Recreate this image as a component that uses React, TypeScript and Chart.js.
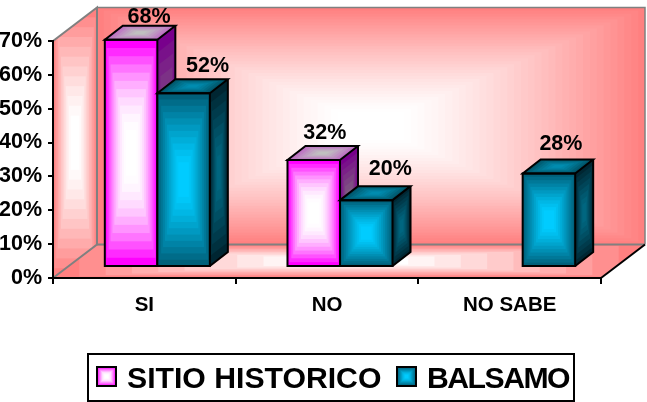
import React, { useEffect, useRef } from "react";
import { Chart, registerables } from "chart.js";

Chart.register(...registerables);

const categories = ["SI", "NO", "NO SABE"];
const sitioHistorico = [68, 32, null];
const balsamo = [52, 20, 28];
const seriesNames = ["SITIO HISTORICO", "BALSAMO"];

const FONT = "'Liberation Sans', Arial, sans-serif";
const DEPTH_X = 44;
const DEPTH_Y = 33.5;
const BAR_DX = 13;
const BAR_DY = 11;
const BAR_SCALE = 0.987;
const BAR_DEPTH_X = 18;
const BAR_DEPTH_Y = 14;
const LEGEND_ITEMS = [
  { swatch: 97, text: 127, spacing: "0px" },
  { swatch: 397, text: 427, spacing: "-1.5px" },
];
const LABEL_NUDGE = [
  [[0, -3], [6, -7.5]],
  [[-7, -7], [6, -11]],
  [[0, 0], [-6, -9]],
];

type RGB = [number, number, number];
const PALETTE: { front: RGB[]; side: RGB[]; top: RGB[]; ease: number }[] = [
  {
    front: [[255, 0, 255], [255, 255, 255]],
    side: [[120, 0, 140], [128, 100, 128]],
    top: [[190, 110, 195], [192, 192, 192]],
    ease: 1.9,
  },
  {
    front: [[0, 96, 122], [0, 204, 255]],
    side: [[0, 38, 50], [0, 102, 128]],
    top: [[0, 84, 104], [0, 140, 175]],
    ease: 1.25,
  },
];
const WALL: RGB[] = [[255, 128, 128], [255, 255, 255]];

function gradQuad(
  ctx: CanvasRenderingContext2D,
  o: number[],
  u: number[],
  v: number[],
  c: RGB[],
  steps: number,
  core = 0.2,
  ease = 1.3
) {
  ctx.save();
  ctx.transform(u[0], u[1], v[0], v[1], o[0], o[1]);
  for (let i = 0; i < steps; i++) {
    const t = steps > 1 ? i / (steps - 1) : 0;
    const k = 1 - Math.pow(1 - t, ease);
    const inset = (t * (1 - core)) / 2;
    const m = c[0].map((e, j) => Math.round(e + (c[1][j] - e) * k));
    ctx.fillStyle = `rgb(${m[0]},${m[1]},${m[2]})`;
    ctx.fillRect(inset, inset, 1 - 2 * inset, 1 - 2 * inset);
  }
  ctx.restore();
}

function polyPath(ctx: CanvasRenderingContext2D, pts: number[][], close = true) {
  ctx.beginPath();
  pts.forEach((p, i) => (i ? ctx.lineTo(p[0], p[1]) : ctx.moveTo(p[0], p[1])));
  if (close) ctx.closePath();
}

function clippedGrad(ctx: CanvasRenderingContext2D, pts: number[][], c: RGB[], steps: number, core: number, ease: number) {
  const xs = pts.map((p) => p[0]);
  const ys = pts.map((p) => p[1]);
  const x0 = Math.min(...xs);
  const y0 = Math.min(...ys);
  ctx.save();
  polyPath(ctx, pts);
  ctx.clip();
  gradQuad(ctx, [x0, y0], [Math.max(...xs) - x0, 0], [0, Math.max(...ys) - y0], c, steps, core, ease);
  ctx.restore();
}

function outline(ctx: CanvasRenderingContext2D, pts: number[][], color: string, width: number, close = true) {
  polyPath(ctx, pts, close);
  ctx.strokeStyle = color;
  ctx.lineWidth = width;
  ctx.lineJoin = "miter";
  ctx.stroke();
}

const scene3d = {
  id: "scene3d",
  beforeDraw(chart: any) {
    const { ctx, chartArea: a } = chart;
    const w = a.right - a.left;
    const h = a.bottom - a.top;
    const tl = [a.left + DEPTH_X, a.top - DEPTH_Y];
    const tr = [a.right + DEPTH_X, a.top - DEPTH_Y];
    const bl = [a.left + DEPTH_X, a.bottom - DEPTH_Y];
    const br = [a.right + DEPTH_X, a.bottom - DEPTH_Y];
    gradQuad(ctx, tl, [w, 0], [0, h], WALL, 36, 0.12, 1.3);
    clippedGrad(ctx, [[a.left, a.top], tl, bl, [a.left, a.bottom]], WALL, 12, 0.2, 1.3);
    clippedGrad(ctx, [[a.left, a.bottom], bl, br, [a.right, a.bottom]], WALL, 10, 0.2, 1.1);
    outline(ctx, [[a.left, a.top], tl, bl, [a.left, a.bottom]], "#808080", 2, false);
    outline(ctx, [bl, br], "#808080", 2, false);
    outline(ctx, [tl, tr, br], "#808080", 1.5, false);
    outline(ctx, [[a.right, a.bottom], br], "#000", 2, false);
  },
  beforeDatasetsDraw(chart: any) {
    const { ctx } = chart;
    const labels: any[] = [];
    categories.forEach((_, ci) => {
      chart.data.datasets.forEach((ds: any, di: number) => {
        const v = ds.data[ci];
        if (v === null || v === undefined) return;
        const el = chart.getDatasetMeta(di).data[ci];
        const l = el.x - el.width / 2 + BAR_DX;
        const r = l + el.width;
        const b = el.base - BAR_DY;
        const t = b - (el.base - el.y) * BAR_SCALE;
        const p = PALETTE[di];
        gradQuad(ctx, [r, t], [BAR_DEPTH_X, -BAR_DEPTH_Y], [0, b - t], p.side, 8, 0.2, 1.2);
        gradQuad(ctx, [l, t], [el.width, 0], [BAR_DEPTH_X, -BAR_DEPTH_Y], p.top, 7, 0.2, 1.2);
        gradQuad(ctx, [l, t], [el.width, 0], [0, b - t], p.front, 12, 0.2, p.ease);
        const k = [r + BAR_DEPTH_X, t - BAR_DEPTH_Y];
        outline(ctx, [[l, t], [r, t], [r, b], [l, b]], "#000", 2);
        outline(ctx, [[l, t], [l + BAR_DEPTH_X, t - BAR_DEPTH_Y], k, [r, t]], "#000", 2);
        outline(ctx, [k, [r + BAR_DEPTH_X, b - BAR_DEPTH_Y], [r, b]], "#000", 2, false);
        const n = LABEL_NUDGE[ci][di];
        labels.push([`${v}%`, (l + r) / 2 + BAR_DEPTH_X + n[0], t - BAR_DEPTH_Y + n[1]]);
      });
    });
    ctx.save();
    ctx.fillStyle = "#000";
    ctx.font = `bold 21.5px ${FONT}`;
    ctx.textAlign = "center";
    ctx.textBaseline = "alphabetic";
    labels.forEach(([s, x, y]) => ctx.fillText(s, x, y));
    ctx.restore();
    return false;
  },
  afterDraw(chart: any) {
    const { ctx } = chart;
    outline(ctx, [[88, 354], [574, 354], [574, 401], [88, 401]], "#000", 2);
    ctx.save();
    ctx.font = `bold 30.2px ${FONT}`;
    ctx.fillStyle = "#000";
    ctx.textAlign = "left";
    ctx.textBaseline = "alphabetic";
    chart.data.datasets.forEach((ds: any, i: number) => {
      const item = LEGEND_ITEMS[i];
      const x = item.swatch;
      gradQuad(ctx, [x, 367], [19, 0], [0, 19], PALETTE[i].front, 7, 0.2, PALETTE[i].ease);
      outline(ctx, [[x, 367], [x + 19, 367], [x + 19, 386], [x, 386]], "#000", 2);
      (ctx as any).letterSpacing = item.spacing;
      ctx.fillText(ds.label, item.text, 388);
    });
    ctx.restore();
  },
};

export default function App() {
  const ref = useRef<HTMLCanvasElement>(null);
  useEffect(() => {
    const chart = new Chart(ref.current!, {
      type: "bar",
      data: {
        labels: categories,
        datasets: [
          { label: seriesNames[0], data: sitioHistorico, backgroundColor: "#ff00ff" },
          { label: seriesNames[1], data: balsamo, backgroundColor: "#00607a" },
        ],
      },
      plugins: [scene3d],
      options: {
        responsive: false,
        animation: false,
        layout: { padding: { left: 0, right: 46, top: 41, bottom: 0 } },
        datasets: { bar: { barPercentage: 1, categoryPercentage: 0.575 } },
        plugins: {
          tooltip: { enabled: false },
          legend: { display: false },
        },
        scales: {
          x: {
            afterFit: (s: any) => {
              s.height = 124;
            },
            grid: { drawOnChartArea: false, drawTicks: true, tickLength: 6, color: "#000", lineWidth: 2, offset: true },
            border: { color: "#000", width: 2 },
            ticks: { color: "#000", padding: 9, maxRotation: 0, font: { family: FONT, weight: "bold", size: 20.5 } },
          },
          y: {
            min: 0,
            max: 70,
            afterFit: (s: any) => {
              s.width = 53;
            },
            grid: { drawOnChartArea: false, drawTicks: true, tickLength: 5, color: "#000", lineWidth: 2 },
            border: { color: "#000", width: 2 },
            ticks: {
              stepSize: 10,
              color: "#000",
              padding: 6,
              font: { family: FONT, weight: "bold", size: 21.5 },
              callback: (v: any) => `${v}%`,
            },
          },
        },
      } as any,
    });
    return () => chart.destroy();
  }, []);
  return (
    <div style={{ position: "absolute", left: 0, top: 0, width: 647, height: 402 }}>
      <canvas ref={ref} width={647} height={402} style={{ display: "block" }} />
    </div>
  );
}
